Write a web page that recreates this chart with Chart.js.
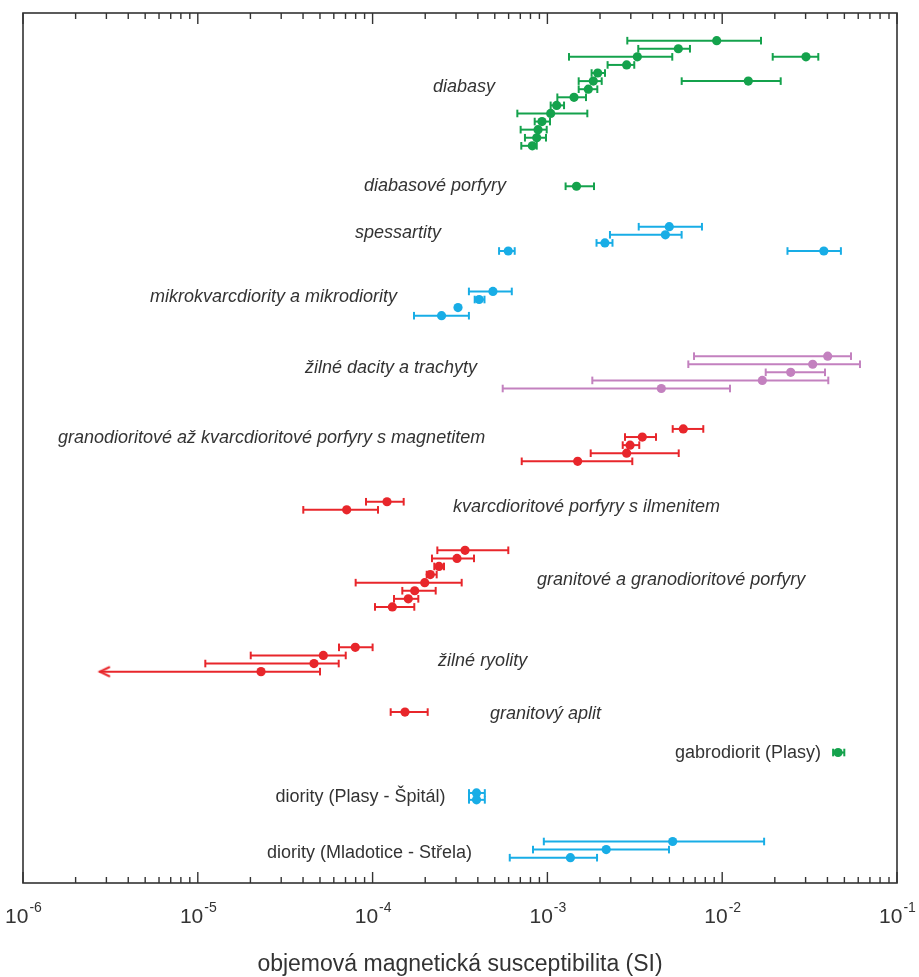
<!DOCTYPE html>
<html>
<head>
<meta charset="utf-8">
<script src="https://cdn.jsdelivr.net/npm/chart.js@4.4.1/dist/chart.umd.min.js"></script>
<style>
  html, body { margin: 0; padding: 0; background: #fff; }
  #chart { display: block; }
</style>
</head>
<body>
<canvas id="chart" width="919" height="977"></canvas>
<script>
// rows are counted from the top of the plot, values in SI units
// green: diabasy, diabasové porfyry, gabrodiorit
const greenRow = [0, 1, 2, 2, 3, 4, 5, 5, 6, 7, 8, 9, 10, 11, 12, 13, 18, 88];
const greenVal = [9.30e-3, 5.61e-3, 3.27e-3, 3.015e-2, 2.84e-3, 1.94e-3, 1.83e-3, 1.41e-2, 1.714e-3, 1.42e-3, 1.13e-3, 1.044e-3, 9.31e-4, 8.84e-4, 8.69e-4, 8.2e-4, 1.467e-3, 4.6e-2];
const greenLo  = [2.865e-3, 3.31e-3, 1.329e-3, 1.945e-2, 2.21e-3, 1.79e-3, 1.51e-3, 5.865e-3, 1.51e-3, 1.14e-3, 1.044e-3, 6.73e-4, 8.46e-4, 7.03e-4, 7.44e-4, 7.09e-4, 1.271e-3, 4.31e-2];
const greenHi  = [1.667e-2, 6.54e-3, 5.18e-3, 3.546e-2, 3.14e-3, 2.135e-3, 2.045e-3, 2.161e-2, 1.93e-3, 1.663e-3, 1.245e-3, 1.692e-3, 1.035e-3, 9.91e-4, 9.82e-4, 8.69e-4, 1.848e-3, 4.995e-2];

// blue: spessartity, mikrodiority, diority
const blueRow = [23, 24, 25, 26, 26, 31, 32, 33, 34, 93, 93.85, 99, 100, 101];
const blueVal = [4.98e-3, 4.73e-3, 2.133e-3, 5.97e-4, 3.814e-2, 4.88e-4, 4.07e-4, 3.08e-4, 2.48e-4, 3.93e-4, 3.93e-4, 5.21e-3, 2.17e-3, 1.354e-3];
const blueLo  = [3.33e-3, 2.28e-3, 1.91e-3, 5.29e-4, 2.363e-2, 3.556e-4, 3.838e-4, null, 1.725e-4, 3.56e-4, 3.56e-4, 9.54e-4, 8.27e-4, 6.09e-4];
const blueHi  = [7.66e-3, 5.86e-3, 2.357e-3, 6.5e-4, 4.776e-2, 6.256e-4, 4.366e-4, null, 3.556e-4, 4.385e-4, 4.385e-4, 1.737e-2, 4.96e-3, 1.923e-3];

// purple: žilné dacity a trachyty
const purpleRow = [39, 40, 41, 42, 43];
const purpleVal = [4.013e-2, 3.293e-2, 2.465e-2, 1.696e-2, 4.484e-3];
const purpleLo  = [6.9e-3, 6.4e-3, 1.774e-2, 1.807e-3, 5.55e-4];
const purpleHi  = [5.454e-2, 6.14e-2, 3.874e-2, 4.045e-2, 1.108e-2];

// red: porfyry, ryolity, aplit
const redRow = [48, 49, 50, 51, 52, 57, 58, 63, 64, 65, 66, 67, 68, 69, 70, 75, 76, 77, 78, 83];
const redVal = [5.99e-3, 3.49e-3, 2.97e-3, 2.84e-3, 1.49e-3, 1.209e-4, 7.11e-5, 3.38e-4, 3.04e-4, 2.398e-4, 2.138e-4, 1.987e-4, 1.741e-4, 1.6e-4, 1.297e-4, 7.96e-5, 5.224e-5, 4.62e-5, 2.3e-5, 1.532e-4];
const redLo  = [5.21e-3, 2.78e-3, 2.697e-3, 1.769e-3, 7.13e-4, 9.17e-5, 4.013e-5, 2.346e-4, 2.186e-4, 2.254e-4, 2.04e-4, 8.0e-5, 1.479e-4, 1.326e-4, 1.032e-4, 6.425e-5, 2.008e-5, 1.104e-5, 2.732e-6, 1.269e-4];
const redHi  = [7.795e-3, 4.18e-3, 3.354e-3, 5.64e-3, 3.06e-3, 1.506e-4, 1.074e-4, 5.975e-4, 3.803e-4, 2.561e-4, 2.326e-4, 3.233e-4, 2.296e-4, 1.826e-4, 1.732e-4, 1.0e-4, 7.02e-5, 6.4e-5, 5.0e-5, 2.066e-4];

// rows whose lower limit is open (drawn as an arrow)
const openLowRows = [78];

// group names
const groupText = [
  "diabasy", "diabasové porfyry", "spessartity", "mikrokvarcdiority a mikrodiority",
  "žilné dacity a trachyty", "granodioritové až kvarcdioritové porfyry s magnetitem",
  "kvarcdioritové porfyry s ilmenitem", "granitové a granodioritové porfyry",
  "žilné ryolity", "granitový aplit", "gabrodiorit (Plasy)",
  "diority (Plasy - Špitál)", "diority (Mladotice - Střela)"
];
const groupX = [2.215e-4, 8.93e-5, 7.93e-5, 5.33e-6, 4.1e-5, 1.585e-6, 2.884e-4, 8.72e-4, 2.37e-4, 4.69e-4, 5.37e-3, 2.783e-5, 2.49e-5];
const groupRow = [5.69, 18.02, 23.83, 31.75, 40.46, 49.18, 57.62, 66.67, 76.68, 83.24, 88.02, 93.5, 100.42];
const groupItalic = [true, true, true, true, true, true, true, true, true, true, false, false, false];

const tickPowers = [-6, -5, -4, -3, -2, -1];
const xTitle = "objemová magnetická susceptibilita (SI)";

const GREEN = "#14a24c";
const BLUE = "#18ade6";
const PURPLE = "#c381bf";
const RED = "#e8262b";
const TEXT = "#333333";

// open arrow head "<", tip at the centre of the canvas
function arrowHead(color) {
  const c = document.createElement("canvas");
  c.width = 24; c.height = 14;
  const g = c.getContext("2d");
  g.strokeStyle = color;
  g.lineWidth = 2;
  g.lineCap = "round";
  g.beginPath();
  g.moveTo(22, 2.5);
  g.lineTo(12.5, 7);
  g.lineTo(22, 11.5);
  g.stroke();
  return c;
}

function series(color, rows, vals, los, his) {
  const sets = [{
    data: rows.map((r, i) => ({ x: vals[i], y: r })),
    pointRadius: 4.6,
    pointBackgroundColor: color,
    pointBorderWidth: 0,
    order: 0
  }];
  const arrow = arrowHead(color);
  rows.forEach((r, i) => {
    if (los[i] == null) return;
    const open = openLowRows.includes(r);
    sets.push({
      data: [{ x: los[i], y: r }, { x: his[i], y: r }],
      showLine: true,
      borderColor: color,
      borderWidth: 2,
      pointStyle: open ? [arrow, "line"] : "line",
      pointRotation: open ? [0, 90] : 90,
      pointRadius: 3.8,
      pointBorderColor: color,
      pointBorderWidth: 2,
      order: 1
    });
  });
  return sets;
}

const datasets = [
  ...series(GREEN, greenRow, greenVal, greenLo, greenHi),
  ...series(BLUE, blueRow, blueVal, blueLo, blueHi),
  ...series(PURPLE, purpleRow, purpleVal, purpleLo, purpleHi),
  ...series(RED, redRow, redVal, redLo, redHi)
];

// frame, inward ticks on top and bottom, tick labels, names
const decor = {
  id: "decor",
  afterDraw(chart) {
    const { ctx, chartArea: a, scales: { x, y } } = chart;
    ctx.save();
    ctx.strokeStyle = "#333";
    ctx.lineWidth = 1.6;
    ctx.strokeRect(a.left, a.top, a.right - a.left, a.bottom - a.top);

    ctx.lineWidth = 1.4;
    ctx.beginPath();
    tickPowers.forEach(p => {
      for (let k = 1; k <= 9; k++) {
        const v = k * Math.pow(10, p);
        if (v > 0.1001) break;
        const px = x.getPixelForValue(v);
        const len = k === 1 ? 11 : 6;
        ctx.moveTo(px, a.bottom); ctx.lineTo(px, a.bottom - len);
        ctx.moveTo(px, a.top); ctx.lineTo(px, a.top + len);
      }
    });
    ctx.stroke();

    ctx.fillStyle = TEXT;
    ctx.textBaseline = "alphabetic";
    ctx.textAlign = "left";
    tickPowers.forEach(p => {
      const px = x.getPixelForValue(Math.pow(10, p));
      ctx.font = "21px 'Liberation Sans', Arial, sans-serif";
      const w1 = ctx.measureText("10").width;
      ctx.font = "14px 'Liberation Sans', Arial, sans-serif";
      const sup = String(p);
      const w2 = ctx.measureText(sup).width;
      const left = px - (w1 + w2) / 2;
      ctx.font = "21px 'Liberation Sans', Arial, sans-serif";
      ctx.fillText("10", left, a.bottom + 40);
      ctx.font = "14px 'Liberation Sans', Arial, sans-serif";
      ctx.fillText(sup, left + w1 + 1, a.bottom + 29);
    });

    ctx.textAlign = "center";
    ctx.font = "23px 'Liberation Sans', Arial, sans-serif";
    ctx.fillText(xTitle, (a.left + a.right) / 2, a.bottom + 88);

    ctx.textAlign = "left";
    ctx.textBaseline = "middle";
    groupText.forEach((t, i) => {
      ctx.font = (groupItalic[i] ? "italic " : "") + "18px 'Liberation Sans', Arial, sans-serif";
      ctx.fillText(t, x.getPixelForValue(groupX[i]), y.getPixelForValue(groupRow[i]));
    });
    ctx.restore();
  }
};

new Chart(document.getElementById("chart"), {
  type: "scatter",
  data: { datasets },
  options: {
    responsive: false,
    animation: false,
    devicePixelRatio: 1,
    layout: { padding: { left: 23, right: 22, top: 13, bottom: 94 } },
    scales: {
      x: { type: "logarithmic", min: 1e-6, max: 1e-1, display: false },
      y: { type: "linear", min: -3.42, max: 104.13, reverse: true, display: false }
    },
    plugins: { legend: { display: false }, tooltip: { enabled: false } },
    events: []
  },
  plugins: [decor]
});
</script>
</body>
</html>
